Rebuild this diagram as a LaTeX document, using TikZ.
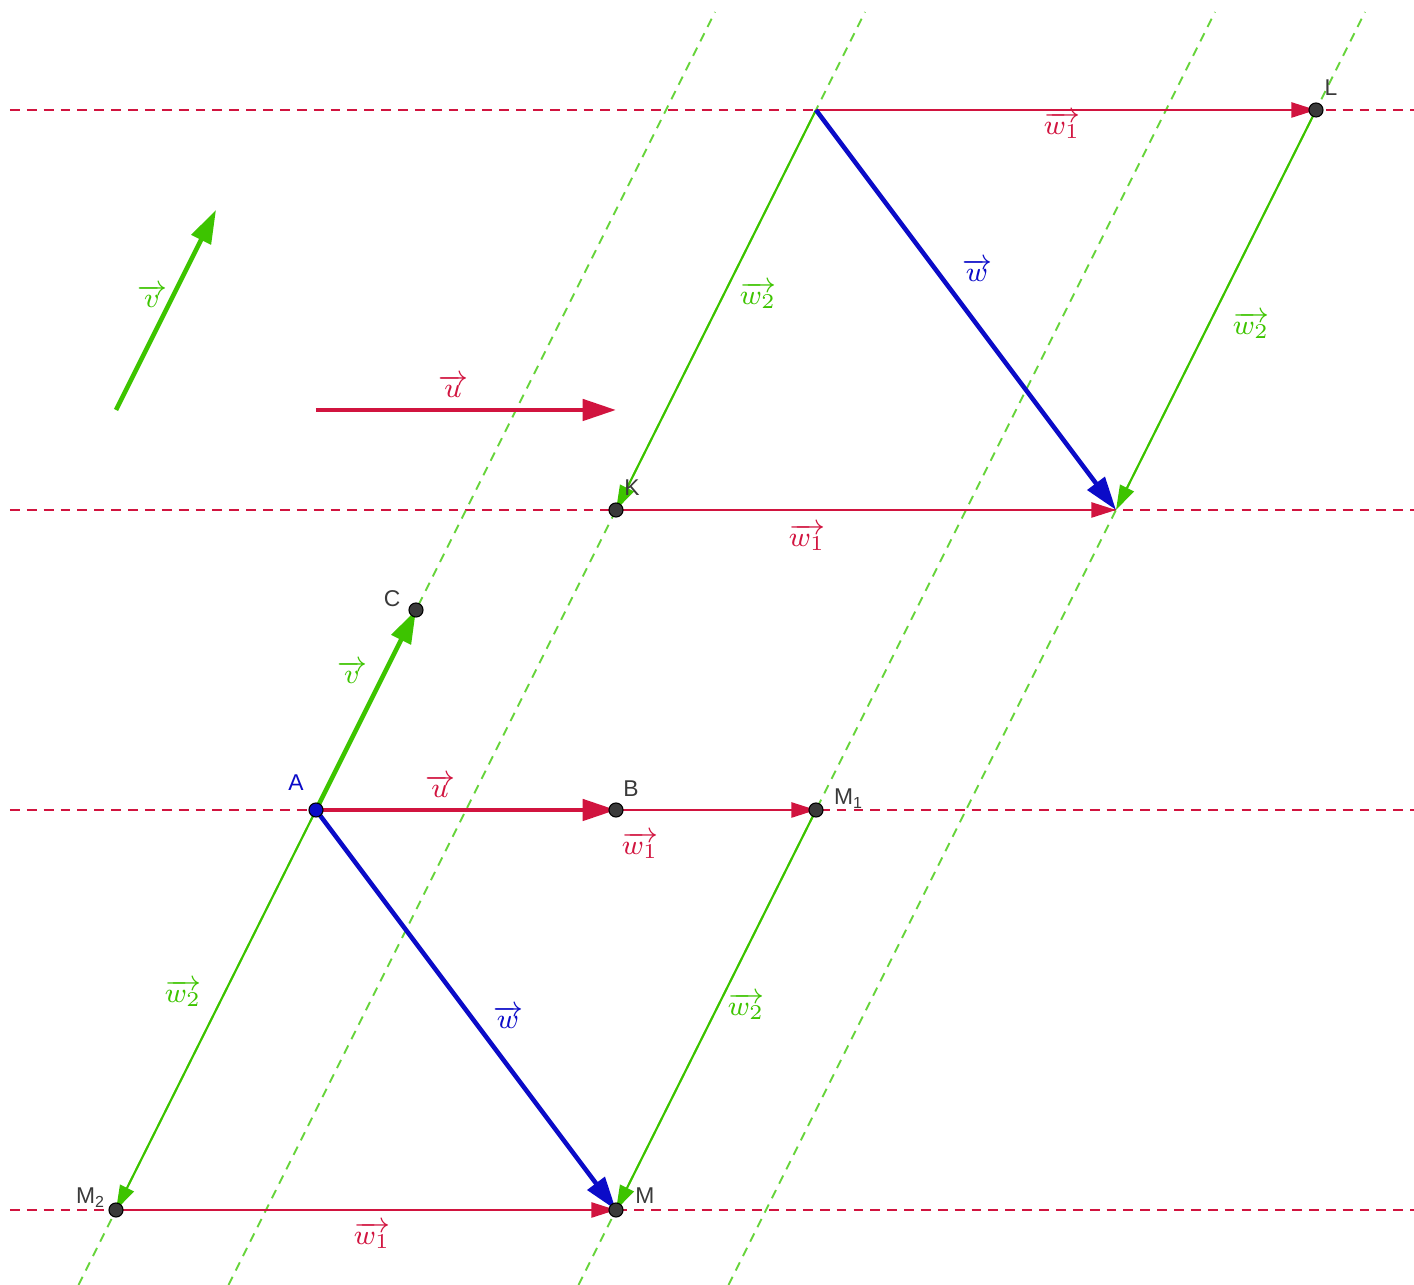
\documentclass[tikz,border=0pt]{standalone}
\usepackage{amsmath}
\usepackage{fontspec}
\setsansfont{Liberation Sans}
\usetikzlibrary{arrows.meta}
\definecolor{vecred}{HTML}{D1143F}
\definecolor{vecgreen}{HTML}{3DC400}
\definecolor{vecblue}{HTML}{0B0BC8}
\definecolor{dashgreen}{HTML}{66D43A}
\definecolor{ptgray}{HTML}{3A3A3A}

\begin{document}
\begin{tikzpicture}[
    vecthin/.style={-{Triangle[length=7pt,width=4.3pt]}, line width=0.6pt},
    vecthick/.style={-{Triangle[length=9.5pt,width=6pt]}, line width=1.3pt},
    redline/.style={vecred, line width=0.5pt, dash pattern=on 2.8pt off 2pt},
    greenline/.style={dashgreen, line width=0.55pt, dash pattern=on 2.6pt off 2pt},
    dot/.style={circle, draw=black, fill=ptgray, line width=0.3pt,
                inner sep=0pt, minimum size=4pt},
    ptname/.style={font=\sffamily\fontsize{6.5}{7}\selectfont, text=ptgray},
    veclab/.style={font=\fontsize{8.5}{9}\selectfont},
  ]
    \useasboundingbox (-3.16,-4.75) rectangle (10.98,8.10);

    % points
    \coordinate (A)  at (0,0);
    \coordinate (B)  at (3,0);
    \coordinate (M1) at (5,0);
    \coordinate (C)  at (1,2);
    \coordinate (M)  at (3,-4);
    \coordinate (M2) at (-2,-4);
    \coordinate (K)  at (3,3);
    \coordinate (P)  at (5,7);
    \coordinate (L)  at (10,7);
    \coordinate (Q)  at (8,3);
    \coordinate (v0) at (-2,4);
    \coordinate (v1) at (-1,6);
    \coordinate (u0) at (0,4);
    \coordinate (u1) at (3,4);

    % dashed lines
    \foreach \y in {7,3,0,-4}
      \draw[redline] (-3.06,\y) -- (10.98,\y);
    \foreach \x in {0,1.5,5,6.5}
      \draw[greenline] (\x-2.375,-4.75) -- (\x+3.99,7.98);

    % thin vectors
    \draw[vecthin, vecred]   (A)  -- (M1);
    \draw[vecthin, vecred]   (M2) -- (M);
    \draw[vecthin, vecred]   (K)  -- (Q);
    \draw[vecthin, vecred]   (P)  -- (L);
    \draw[vecthin, vecgreen] (A)  -- (M2);
    \draw[vecthin, vecgreen] (M1) -- (M);
    \draw[vecthin, vecgreen] (P)  -- (K);
    \draw[vecthin, vecgreen] (L)  -- (Q);

    % thick vectors
    \draw[vecthick, vecred]   (A)  -- (B);
    \draw[vecthick, vecgreen] (A)  -- (C);
    \draw[vecthick, vecblue]  (A)  -- (M);
    \draw[vecthick, vecblue]  (P)  -- (Q);
    \draw[vecthick, vecgreen] (v0) -- (v1);
    \draw[vecthick, vecred]   (u0) -- (u1);

    % dots
    \foreach \p in {B,C,M1,M,M2,K,L}
      \node[dot] (dot\p) at (\p) {};
    \node[dot, fill=vecblue] (dotA) at (A) {};

    % point names
    \node[ptname, text=vecblue] (nA) at (-0.20,0.27) {A};
    \node[ptname] (nB)  at (3.15,0.21)  {B};
    \node[ptname] (nC)  at (0.76,2.11)  {C};
    \node[ptname] (nM1) at (5.33,0.11)  {M\textsubscript{1}};
    \node[ptname] (nM)  at (3.29,-3.86) {M};
    \node[ptname] (nM2) at (-2.25,-3.88) {M\textsubscript{2}};
    \node[ptname] (nK)  at (3.16,3.22)  {K};
    \node[ptname] (nL)  at (10.15,7.22) {L};

    % vector labels
    \node[veclab, text=vecred]   (lu0) at (1.37,4.24)   {$\overrightarrow{u}$};
    \node[veclab, text=vecgreen] (lv0) at (-1.64,5.14)  {$\overrightarrow{v}$};
    \node[veclab, text=vecgreen] (lv)  at (0.36,1.38)   {$\overrightarrow{v}$};
    \node[veclab, text=vecred]   (lu)  at (1.24,0.24)   {$\overrightarrow{u}$};
    \node[veclab, text=vecred]   (lw1a) at (3.24,-0.35) {$\overrightarrow{w_1}$};
    \node[veclab, text=vecgreen] (lw2a) at (-1.33,-1.83) {$\overrightarrow{w_2}$};
    \node[veclab, text=vecblue]  (lwa)  at (1.92,-2.07) {$\overrightarrow{w}$};
    \node[veclab, text=vecgreen] (lw2b) at (4.30,-1.96) {$\overrightarrow{w_2}$};
    \node[veclab, text=vecred]   (lw1b) at (0.56,-4.25) {$\overrightarrow{w_1}$};
    \node[veclab, text=vecred]   (lw1c) at (7.46,6.85)  {$\overrightarrow{w_1}$};
    \node[veclab, text=vecgreen] (lw2c) at (4.42,5.15)  {$\overrightarrow{w_2}$};
    \node[veclab, text=vecblue]  (lwb)  at (6.61,5.40)  {$\overrightarrow{w}$};
    \node[veclab, text=vecgreen] (lw2d) at (9.35,4.85)  {$\overrightarrow{w_2}$};
    \node[veclab, text=vecred]   (lw1d) at (4.91,2.73)  {$\overrightarrow{w_1}$};
  \end{tikzpicture}
\end{document}
